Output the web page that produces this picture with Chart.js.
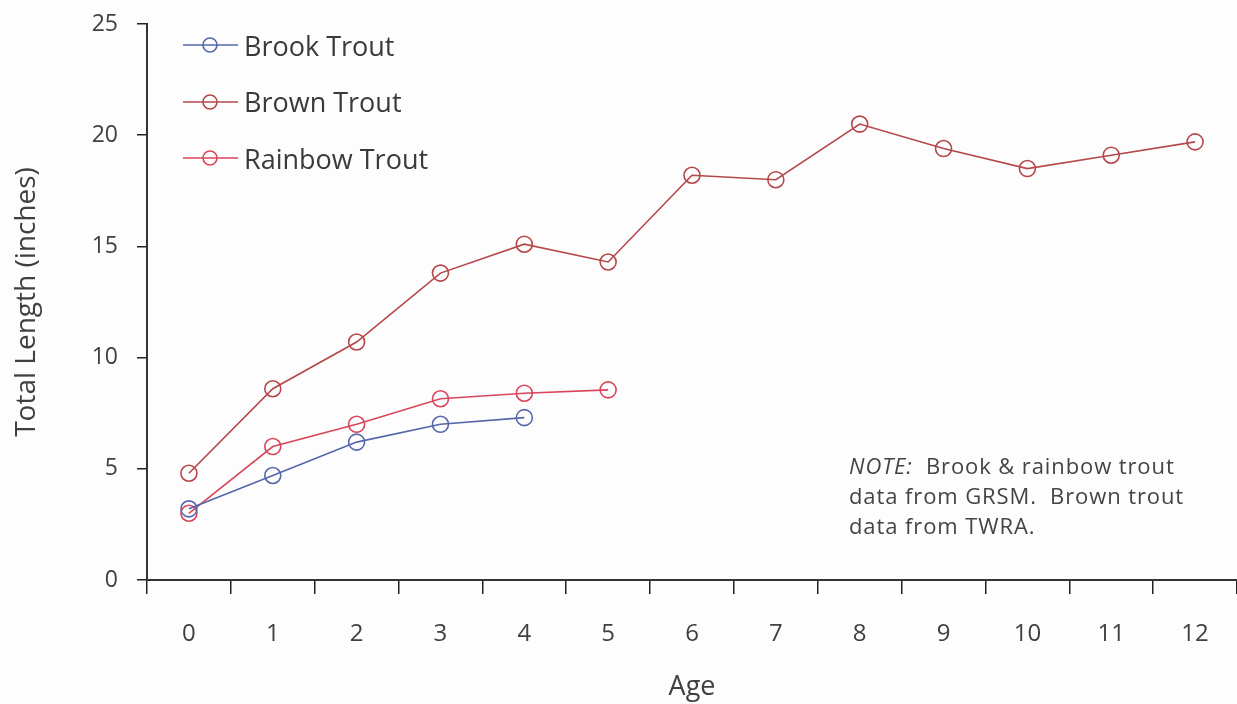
<!DOCTYPE html>
<html>
<head>
<meta charset="utf-8">
<script src="https://cdn.jsdelivr.net/npm/chart.js@4/dist/chart.umd.min.js"></script>
<style>
  html, body { margin: 0; padding: 0; background: #fdfdfd; overflow: hidden; }
  #wrap { position: relative; width: 1237px; height: 704px; }
  #chart { display: block; }
  #legend { position: absolute; left: 183px; top: 17px; font-family: "Open Sans", sans-serif; font-size: 27px; color: #3a3a3a; }
  .item { display: flex; align-items: center; height: 56.5px; }
  .item canvas { margin-right: 6px; }
  #note { position: absolute; left: 849px; top: 450px; font-family: "Open Sans", sans-serif; font-size: 22px; letter-spacing: 0.9px; line-height: 30px; color: #444; }
</style>
</head>
<body>
<div id="wrap">
  <canvas id="chart" width="1237" height="704"></canvas>
  <div id="legend"></div>
  <div id="note"><i>NOTE:</i>&nbsp; Brook &amp; rainbow trout<br>data from GRSM.&nbsp; Brown trout<br>data from TWRA.</div>
</div>
<script>
// Ages and lengths (inches)
const ages = ["0", "1", "2", "3", "4", "5", "6", "7", "8", "9", "10", "11", "12"];
const brookTrout = [3.2, 4.7, 6.2, 7.0, 7.3];
const brownTrout = [4.8, 8.6, 10.7, 13.8, 15.1, 14.3, 18.2, 18.0, 20.5, 19.4, 18.5, 19.1, 19.7];
const rainbowTrout = [3.0, 6.0, 7.0, 8.15, 8.4, 8.55];
const yTicks = [0, 5, 10, 15, 20, 25];

const textColor = "#404040";
const fontFamily = "'Open Sans', sans-serif";

function series(label, data, color) {
  return {
    label: label,
    data: data,
    borderColor: color,
    backgroundColor: "transparent",
    borderWidth: 1.6,
    pointRadius: 8,
    pointHoverRadius: 8,
    pointBorderWidth: 1.6,
    pointBackgroundColor: "transparent",
    pointBorderColor: color,
    tension: 0,
  };
}

const datasets = [
  series("Brook Trout", brookTrout, "#5566aa"),
  series("Brown Trout", brownTrout, "#b5474a"),
  series("Rainbow Trout", rainbowTrout, "#d9455a"),
];

const chart = new Chart(document.getElementById("chart"), {
  type: "line",
  data: { labels: ages, datasets: datasets },
  options: {
    responsive: false,
    animation: false,
    layout: { autoPadding: false, padding: { top: 24, right: 0, left: 0, bottom: 0 } },
    plugins: { legend: { display: false }, tooltip: { enabled: false } },
    scales: {
      x: {
        type: "category",
        offset: true,
        afterFit: (scale) => {
          scale.height = 124;
          scale.paddingLeft = 0;
          scale.paddingRight = 0;
        },
        grid: { offset: true, drawOnChartArea: false, drawTicks: true, tickLength: 14, color: "#222", lineWidth: 1.5 },
        border: { display: true, color: "#333", width: 2 },
        ticks: { color: textColor, font: { family: fontFamily, size: 24 }, padding: 26, maxRotation: 0 },
        title: { display: true, text: "Age", color: textColor, font: { family: fontFamily, size: 27 }, padding: { top: 0, bottom: 0 } },
      },
      y: {
        min: 0,
        max: 25,
        afterFit: (scale) => {
          scale.width = 147;
          scale.paddingTop = 0;
          scale.paddingBottom = 0;
        },
        afterBuildTicks: (scale) => { scale.ticks = yTicks.map((v) => ({ value: v })); },
        grid: { drawOnChartArea: false, drawTicks: true, tickLength: 10, color: "#222", lineWidth: 1.5 },
        border: { display: true, color: "#333", width: 2 },
        ticks: { color: textColor, font: { family: fontFamily, size: 23 }, padding: 19 },
        title: { display: true, text: "Total Length (inches)", color: textColor, font: { family: fontFamily, size: 28 }, padding: { top: 10, bottom: 0 } },
      },
    },
  },
});

// Build legend inside the plot area
const legend = document.getElementById("legend");
datasets.forEach((ds) => {
  const item = document.createElement("div");
  item.className = "item";
  const sw = document.createElement("canvas");
  sw.width = 55;
  sw.height = 24;
  const ctx = sw.getContext("2d");
  ctx.strokeStyle = ds.borderColor;
  ctx.lineWidth = 1.6;
  ctx.beginPath();
  ctx.moveTo(0, 12);
  ctx.lineTo(55, 12);
  ctx.stroke();
  ctx.beginPath();
  ctx.arc(27, 12, 7, 0, Math.PI * 2);
  ctx.stroke();
  const label = document.createElement("span");
  label.textContent = ds.label;
  item.appendChild(sw);
  item.appendChild(label);
  legend.appendChild(item);
});
</script>
</body>
</html>
